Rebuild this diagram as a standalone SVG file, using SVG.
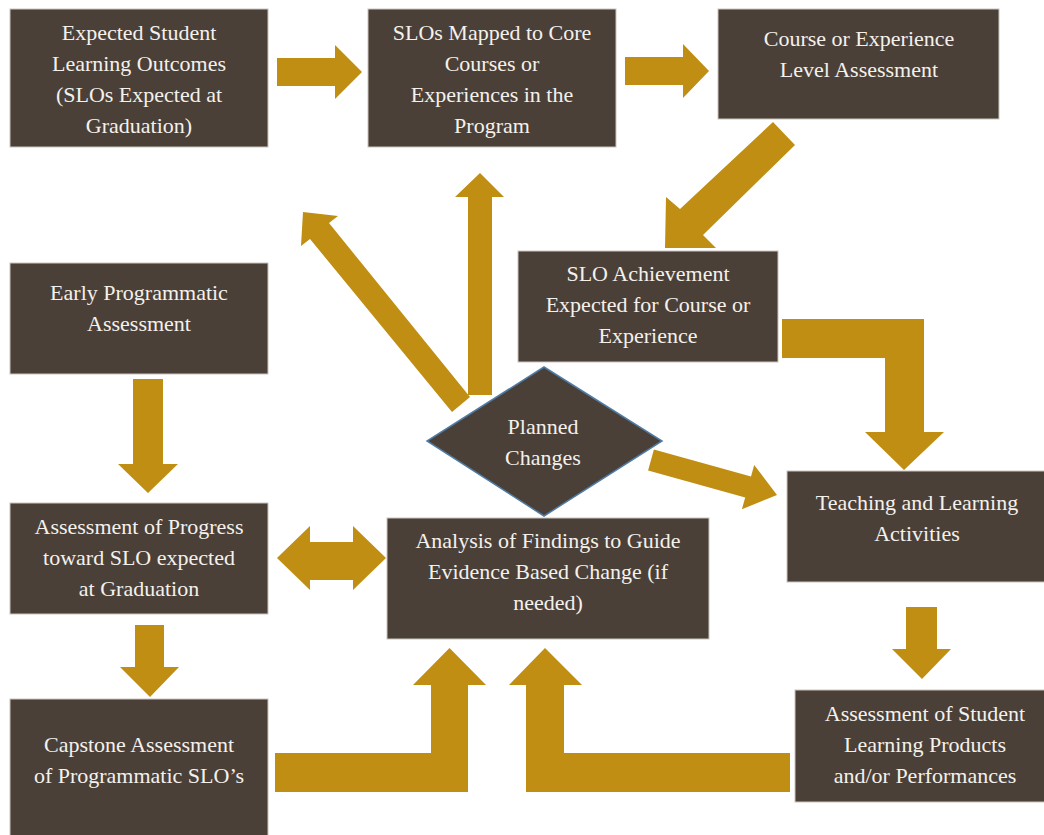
<svg xmlns="http://www.w3.org/2000/svg" width="1044" height="835" viewBox="0 0 1044 835" font-family="'Liberation Serif', 'Times New Roman', serif">
<style>
.box{fill:#4B4038;stroke:#C9C4BE;stroke-width:1}
.dia{fill:#4B4038;stroke:#4F7CA6;stroke-width:1.5}
.t{font-family:'Liberation Serif','Times New Roman',serif;font-size:22px;fill:#F4F1EC;text-anchor:middle}
.arr{fill:#C08E12}
</style>
<rect width="1044" height="835" fill="#FFFFFF"/>
<g id="connectors">
<polygon class="arr" points="277,58 335,58 335,45 362,72 335,99 335,86 277,86"/>
<polygon class="arr" points="625,57 683,57 683,44 709,71 683,98 683,85 625,85"/>
<polygon class="arr" points="773,122 795,145 703,235 716,248 665,248 666,197 680,209"/>
<polygon class="arr" points="468,395 468,197 455,197 480,173 504,197 492,197 492,395"/>
<polygon class="arr" points="452,412 470,397 329,223 338,216 303,212 301,246 310,239"/>
<polygon class="arr" points="653.9,449.4 751,476.4 754.2,464.9 777,495 741.9,509.2 745.2,497.6 648.1,470.6"/>
<polygon class="arr" points="782,319 924,319 924,432 944,432 904,470 865,432 885,432 885,358 782,358"/>
<polygon class="arr" points="133,379 163,379 163,464 178,464 148,493 118,464 133,464"/>
<polygon class="arr" points="135,625 164,625 164,667 179,667 150,697 120,667 135,667"/>
<polygon class="arr" points="277,558 310,526 310,542 353,542 353,526 386,558 353,590 353,580 310,580 310,590"/>
<polygon class="arr" points="906,607 937,607 937,649 951,649 922,679 892,649 906,649"/>
<polygon class="arr" points="275,753 431,753 431,685 413,685 449.5,648 486,685 468,685 468,792 275,792"/>
<polygon class="arr" points="790,753 564,753 564,685 582,685 545,648 509,685 526,685 526,792 790,792"/>
</g>
<g id="n1"><rect class="box" x="10" y="9" width="258" height="138"/>
<text class="t" x="139" y="40">Expected Student</text><text class="t" x="139" y="71">Learning Outcomes</text><text class="t" x="139" y="102">(SLOs Expected at</text><text class="t" x="139" y="133">Graduation)</text></g>
<g id="n2"><rect class="box" x="368" y="9" width="248" height="138"/>
<text class="t" x="492" y="40">SLOs Mapped to Core</text><text class="t" x="492" y="71">Courses or</text><text class="t" x="492" y="102">Experiences in the</text><text class="t" x="492" y="133">Program</text></g>
<g id="n3"><rect class="box" x="718" y="9" width="281" height="110"/>
<text class="t" x="859" y="46">Course or Experience</text><text class="t" x="859" y="77">Level Assessment</text></g>
<g id="n4"><rect class="box" x="518" y="251" width="260" height="111"/>
<text class="t" x="648" y="281">SLO Achievement</text><text class="t" x="648" y="312">Expected for Course or</text><text class="t" x="648" y="343">Experience</text></g>
<g id="n5"><rect class="box" x="10" y="263" width="258" height="111"/>
<text class="t" x="139" y="300">Early Programmatic</text><text class="t" x="139" y="331">Assessment</text></g>
<g id="n6"><rect class="box" x="10" y="503" width="258" height="111"/>
<text class="t" x="139" y="534">Assessment of Progress</text><text class="t" x="139" y="565">toward SLO expected</text><text class="t" x="139" y="596">at Graduation</text></g>
<g id="n7"><rect class="box" x="387" y="518" width="322" height="121"/>
<text class="t" x="548" y="548">Analysis of Findings to Guide</text><text class="t" x="548" y="579">Evidence Based Change (if</text><text class="t" x="548" y="610">needed)</text></g>
<g id="n8"><polygon class="dia" points="544,367 662,441 544,516 427,441"/>
<text class="t" x="543" y="434">Planned</text><text class="t" x="543" y="465">Changes</text></g>
<g id="n9"><rect class="box" x="787" y="471" width="260" height="111"/>
<text class="t" x="917" y="510">Teaching and Learning</text><text class="t" x="917" y="541">Activities</text></g>
<g id="n10"><rect class="box" x="795" y="690" width="252" height="112"/>
<text class="t" x="925" y="721">Assessment of Student</text><text class="t" x="925" y="752">Learning Products</text><text class="t" x="925" y="783">and/or Performances</text></g>
<g id="n11"><rect class="box" x="10" y="699" width="258" height="140"/>
<text class="t" x="139" y="752">Capstone Assessment</text><text class="t" x="139" y="783">of Programmatic SLO’s</text></g>
</svg>
